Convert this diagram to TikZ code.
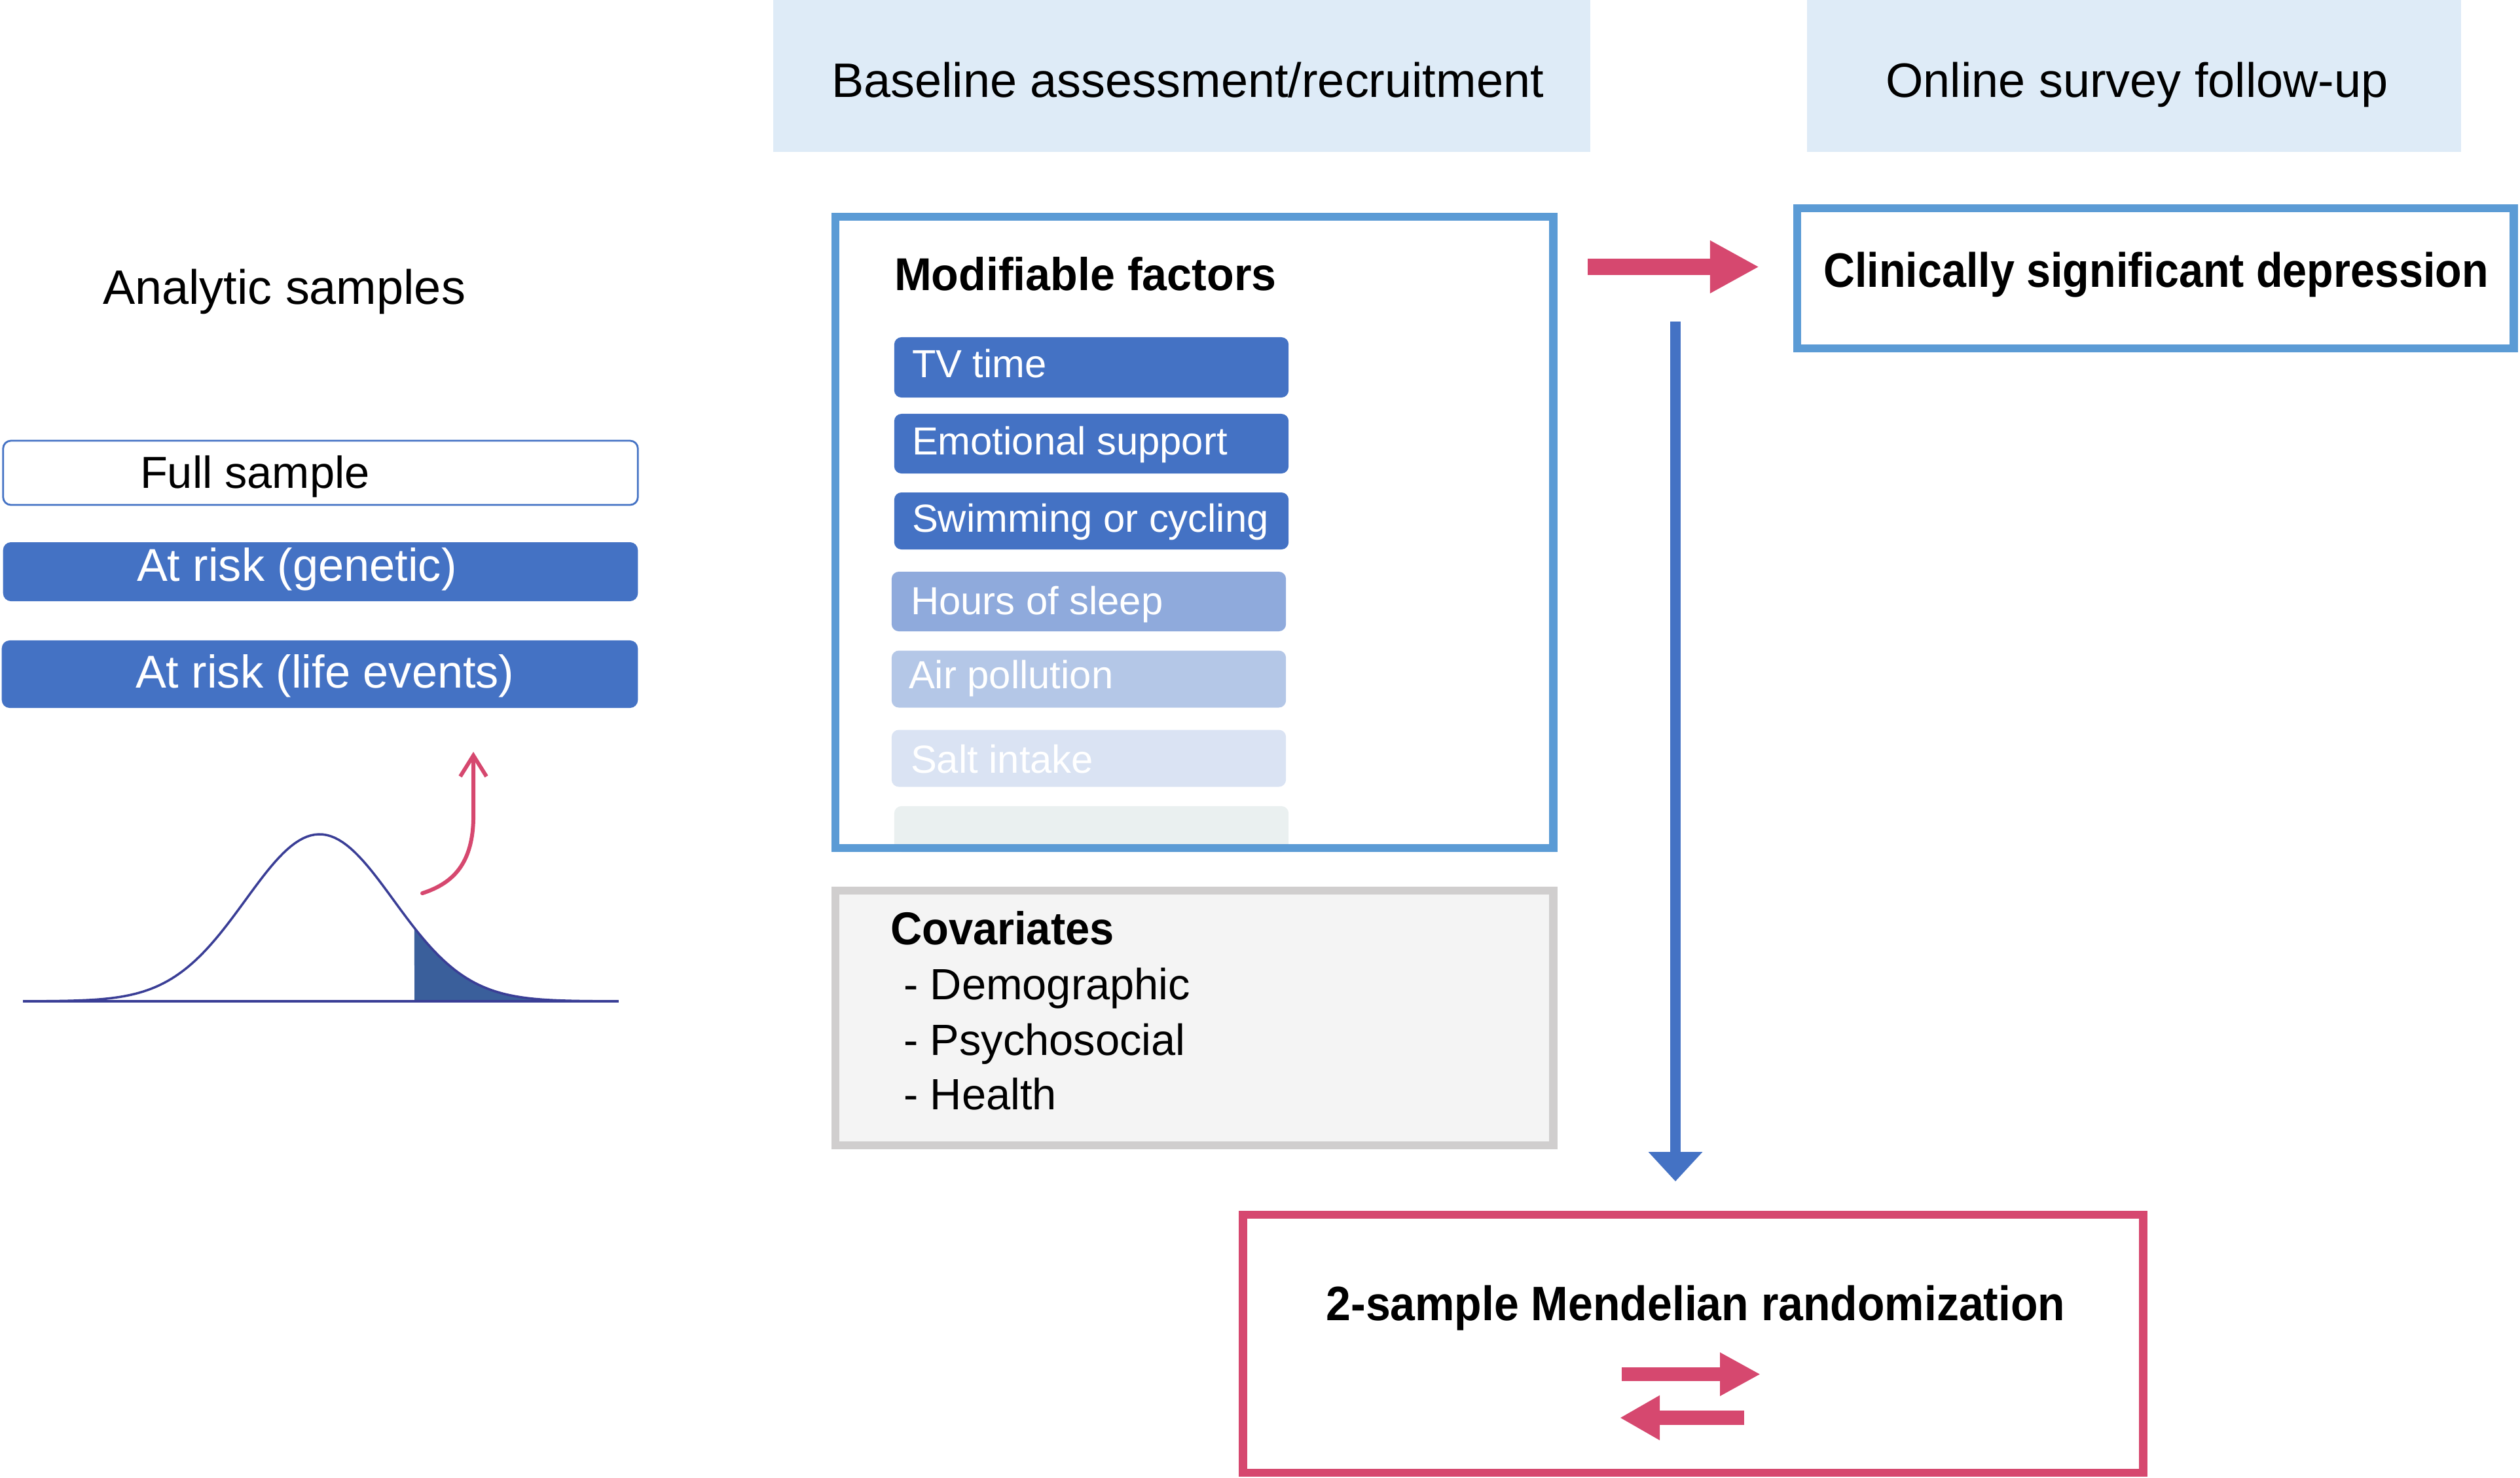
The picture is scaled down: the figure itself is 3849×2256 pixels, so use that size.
\documentclass[tikz,border=0pt]{standalone}
\usepackage{fontspec}
\setmainfont{Liberation Sans}
\usepackage{graphicx}
\usetikzlibrary{arrows.meta}
\definecolor{hdrfill}{HTML}{DEEBF7}
\definecolor{mainblue}{HTML}{4472C4}
\definecolor{frameblue}{HTML}{5B9BD5}
\definecolor{pinkc}{RGB}{214,72,111}
\definecolor{covborder}{HTML}{D0CECE}
\definecolor{covfill}{HTML}{F4F4F4}
\definecolor{blueB}{HTML}{8FAADC}
\definecolor{blueC}{HTML}{B4C7E7}
\definecolor{blueD}{HTML}{DAE3F3}
\definecolor{blueE}{HTML}{EAF0F0}
\definecolor{curvec}{RGB}{58,62,150}
\definecolor{shadec}{RGB}{58,95,155}
\newcommand{\narrowtext}[2]{\scalebox{#1}[1]{#2}}
\begin{document}
\begin{tikzpicture}[x=0.01cm,y=-0.01cm,
  every node/.style={inner sep=0pt, outer sep=0pt},
  hdrbox/.style={rectangle, fill=hdrfill, minimum height=2.32cm},
  framebox/.style={rectangle, line width=3.5pt},
  factorbar/.style={rectangle, rounded corners=0.11cm, minimum width=6.02cm},
  samplebar/.style={rectangle, rounded corners=0.12cm},
  hdrtext/.style={font=\fontsize{21}{25}\selectfont, anchor=base},
  regtext/.style={font=\fontsize{19.5}{23}\selectfont, anchor=base west},
  risktext/.style={font=\fontsize{20}{24}\selectfont, anchor=base west, text=white},
  factortext/.style={font=\fontsize{17}{20}\selectfont, text=white, anchor=base west},
  covtext/.style={font=\fontsize{19}{23}\selectfont, anchor=base west},
  boldtext/.style={font=\fontsize{21}{25}\selectfont\bfseries},
  blockarrow/.style={draw=pinkc, line width=#1},
  bellline/.style={draw=curvec, line width=1pt}
]
\useasboundingbox (0,0) rectangle (3849,2256);

% header bands
\node[hdrbox, minimum width=12.48cm] (hdrA) at (1805,116) {};
\node[hdrbox, minimum width=9.99cm] (hdrB) at (3259.5,116) {};
\node[hdrtext] (hdrAt) at (1814,148) {Baseline assessment/recruitment};
\node[hdrtext] (hdrBt) at (3264,148) {Online survey follow-up};

% analytic samples column
\node[font=\fontsize{21}{25}\selectfont, anchor=base west] (analytic) at (157,464) {Analytic samples};
\node[samplebar, draw=mainblue, fill=white, line width=0.8pt, minimum width=9.69cm, minimum height=0.98cm] (full) at (489.5,722) {};
\node[samplebar, fill=mainblue, minimum width=9.69cm, minimum height=0.90cm] (gen) at (489.5,873) {};
\node[samplebar, fill=mainblue, minimum width=9.71cm, minimum height=1.03cm] (life) at (488.5,1029.5) {};
\node[regtext] (fullt) at (214,745) {Full sample};
\node[risktext] (gent) at (209,887) {At risk (genetic)};
\node[risktext] (lifet) at (207,1050) {At risk (life events)};

% bell curve
\fill[shadec] (633,1529) -- plot[domain=1.283:4.04, samples=40] ({488+113*\x},{1529-255*exp(-0.5*(\x)*(\x))}) -- (945,1529) -- cycle;
\draw[bellline] plot[domain=-4.0:4.04, samples=150] ({488+113*\x},{1529-255*exp(-0.5*(\x)*(\x))});
\draw[bellline] (35,1529) -- (945,1529);
\coordinate (tailstart) at (645,1364);
\coordinate (tailend) at (723,1148);
\draw[pinkc, line width=1.7pt, line cap=round, -{Straight Barb[length=0.32cm, width=0.4cm]}]
  (tailstart) .. controls (695,1348) and (725,1315) .. (723,1238) -- (tailend);

% modifiable factors
\node[factorbar, fill=blueE, minimum height=0.70cm] (fempty) at (1667,1266) {};
\node[factorbar, fill=mainblue, minimum height=0.92cm] (ftv) at (1667,561) {};
\node[factorbar, fill=mainblue, minimum height=0.91cm] (femo) at (1667,677.5) {};
\node[factorbar, fill=mainblue, minimum height=0.87cm] (fswim) at (1667,795.5) {};
\node[factorbar, fill=blueB, minimum height=0.91cm] (fsleep) at (1663,918.5) {};
\node[factorbar, fill=blueC, minimum height=0.87cm] (fair) at (1663,1037) {};
\node[factorbar, fill=blueD, minimum height=0.87cm] (fsalt) at (1663,1158) {};
\node[factortext] (ftvt) at (1393,576) {TV time};
\node[factortext] (femot) at (1393,694) {Emotional support};
\node[factortext] (fswimt) at (1393,812) {Swimming or cycling};
\node[factortext] (fsleept) at (1391,938) {Hours of sleep};
\node[factortext] (fairt) at (1388,1051) {Air pollution};
\node[factortext] (fsaltt) at (1391,1180) {Salt intake};
\node[framebox, draw=frameblue, minimum width=10.96cm, minimum height=9.64cm] (mf) at (1824,813) {};
\node[boldtext, font=\fontsize{20}{24}\selectfont\bfseries, anchor=base west] (mft) at (1366,443) {\narrowtext{0.97}{Modifiable factors}};

% covariates
\node[framebox, draw=covborder, fill=covfill, minimum width=10.96cm, minimum height=3.89cm] (cov) at (1824,1554.5) {};
\node[boldtext, font=\fontsize{20}{24}\selectfont\bfseries, anchor=base west] (covt) at (1360,1442) {\narrowtext{0.95}{Covariates}};
\node[covtext] (cov1) at (1380,1526) {- Demographic};
\node[covtext] (cov2) at (1380,1611) {- Psychosocial};
\node[covtext] (cov3) at (1380,1694) {- Health};

% outcome
\node[framebox, draw=frameblue, fill=white, minimum width=10.94cm, minimum height=2.14cm] (clin) at (3292,425) {};
\node[boldtext, anchor=base] (clint) at (3293,438) {\narrowtext{0.9}{Clinically significant depression}};

% MR
\node[framebox, draw=pinkc, fill=white, minimum width=13.74cm, minimum height=3.94cm] (mr) at (2586,2052) {};
\node[boldtext, anchor=base] (mrt) at (2590,2016) {\narrowtext{0.92}{2-sample Mendelian randomization}};

% arrows
\coordinate (pa1) at (2425,407.5);
\coordinate (pa2) at (2687,407.5);
\draw[blockarrow=0.25cm, -{Triangle[length=0.75cm,width=0.75cm]}] (pa1) -- (pa2);
\coordinate (va1) at (2559,491);
\coordinate (va2) at (2559,1804);
\draw[draw=mainblue, line width=0.16cm, -{Triangle[length=0.45cm,width=0.8cm]}] (va1) -- (va2);
\coordinate (ra1) at (2477,2098.5);
\coordinate (ra2) at (2689,2098.5);
\draw[blockarrow=0.21cm, -{Triangle[length=0.62cm,width=0.62cm]}] (ra1) -- (ra2);
\coordinate (la1) at (2664,2165);
\coordinate (la2) at (2474,2165);
\draw[blockarrow=0.22cm, -{Triangle[length=0.61cm,width=0.64cm]}] (la1) -- (la2);
\end{tikzpicture}
\end{document}
